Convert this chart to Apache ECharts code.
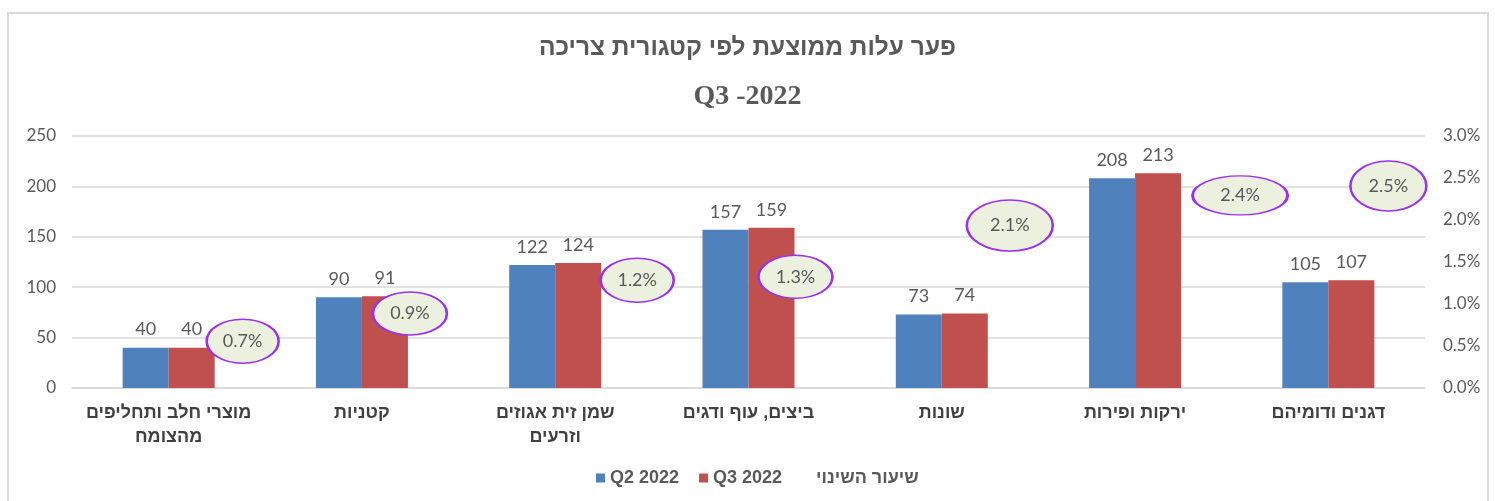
<!DOCTYPE html>
<html><head><meta charset="utf-8">
<script src="https://cdn.jsdelivr.net/npm/echarts@6/dist/echarts.min.js"></script>
<style>html,body{margin:0;padding:0;background:#fff}#c{width:1495px;height:501px}</style>
</head><body><div id="c"></div>
<script>
// ---- data ----
const categories = ['מוצרי חלב ותחליפים\nמהצומח', 'קטניות', 'שמן זית אגוזים\nוזרעים', 'ביצים, עוף ודגים', 'שונות', 'ירקות ופירות', 'דגנים ודומיהם'];
const q2_2022 = [40, 90, 122, 157, 73, 208, 105];
const q3_2022 = [40, 91, 124, 159, 74, 213, 107];
const changeRate = [0.007, 0.009, 0.012, 0.013, 0.021, 0.024, 0.025];
const leftTicks = [0, 50, 100, 150, 200, 250];
const rightTicks = [0, 0.005, 0.01, 0.015, 0.02, 0.025, 0.03];
const titleLine1 = 'פער עלות ממוצעת לפי קטגורית צריכה';
const titleLine2 = 'Q3 -2022';

// ---- label layout (manual label nudges, px) ----
const ellipseNudge = [[74, 12], [48, 1], [82, -7], [47, -2], [68, 14], [105, 9], [60, 8]];
const ellipseSize = [[72, 44], [74, 43], [73, 44], [74, 43], [86, 51], [95, 39], [76, 50]];

const gray = '#595959';
const ellipsePath = 'path://M0,50 A50,50 0 1,1 100,50 A50,50 0 1,1 0,50 Z';

const chart = echarts.init(document.getElementById('c'), null, {renderer: 'canvas'});
chart.setOption({
  backgroundColor: '#fff',
  animation: false,
  graphic: [{
    type: 'rect', shape: {x: 8, y: 13, width: 1480, height: 520},
    style: {fill: 'none', stroke: '#D9D9D9', lineWidth: 2}, silent: true, z: -1
  }],
  title: [
    {text: titleLine1, left: 'center', top: 31,
     textStyle: {fontFamily: 'Liberation Sans', fontWeight: 'bold', fontSize: 24.5, color: gray}},
    {text: titleLine2, left: 'center', top: 78,
     textStyle: {fontFamily: 'Liberation Serif', fontWeight: 'bold', fontSize: 28, color: gray}}
  ],
  legend: {
    bottom: 9, left: 591, itemWidth: 9, itemHeight: 9, itemGap: 20,
    textStyle: {fontFamily: 'Liberation Sans', fontWeight: 'bold', fontSize: 18, color: gray},
    data: [{name: 'Q2 2022', icon: 'rect'}, {name: 'Q3 2022', icon: 'rect'}, {name: 'שיעור השינוי', icon: 'none'}]
  },
  grid: {left: 72, right: 70, top: 136, bottom: 113},
  xAxis: {
    type: 'category', data: categories,
    axisLine: {lineStyle: {color: '#D9D9D9', width: 1.5}},
    axisTick: {show: false},
    axisLabel: {interval: 0, margin: 13, fontFamily: 'Liberation Sans', fontWeight: 'bold', fontSize: 18, color: '#404040', lineHeight: 24}
  },
  yAxis: [
    {type: 'value', min: leftTicks[0], max: leftTicks[leftTicks.length - 1], interval: leftTicks[1] - leftTicks[0],
     axisLine: {show: false}, axisTick: {show: false},
     splitLine: {lineStyle: {color: '#D9D9D9', width: 1.5}},
     axisLabel: {margin: 16, fontFamily: 'Lato', fontSize: 17, color: gray}},
    {type: 'value', min: rightTicks[0], max: rightTicks[rightTicks.length - 1], interval: rightTicks[1] - rightTicks[0],
     axisLine: {show: false}, axisTick: {show: false}, splitLine: {show: false},
     axisLabel: {margin: 18, fontFamily: 'Lato', fontSize: 17, color: gray,
       formatter: v => (v * 100).toFixed(1) + '%'}}
  ],
  series: [
    {name: 'Q2 2022', type: 'bar', data: q2_2022, barWidth: 46, barGap: '0%',
     itemStyle: {color: '#4F81BD'},
     label: {show: true, position: 'top', distance: 9, fontFamily: 'Lato', fontSize: 18, color: gray}},
    {name: 'Q3 2022', type: 'bar', data: q3_2022, barWidth: 46, barGap: '0%',
     itemStyle: {color: '#C0504D'},
     label: {show: true, position: 'top', distance: 9, fontFamily: 'Lato', fontSize: 18, color: gray}},
    {name: 'שיעור השינוי', type: 'scatter', yAxisIndex: 1, z: 5,
     symbol: ellipsePath, symbolKeepAspect: false,
     data: changeRate.map((v, i) => ({
       value: v, symbolSize: ellipseSize[i], symbolOffset: ellipseNudge[i]
     })),
     itemStyle: {color: '#EBF1DE', borderColor: '#9B30F0', borderWidth: 2, opacity: 1},
     label: {show: true, position: 'inside', fontFamily: 'Lato', fontSize: 18, color: gray,
       formatter: p => (p.value * 100).toFixed(1) + '%'}}
  ]
});
</script></body></html>
